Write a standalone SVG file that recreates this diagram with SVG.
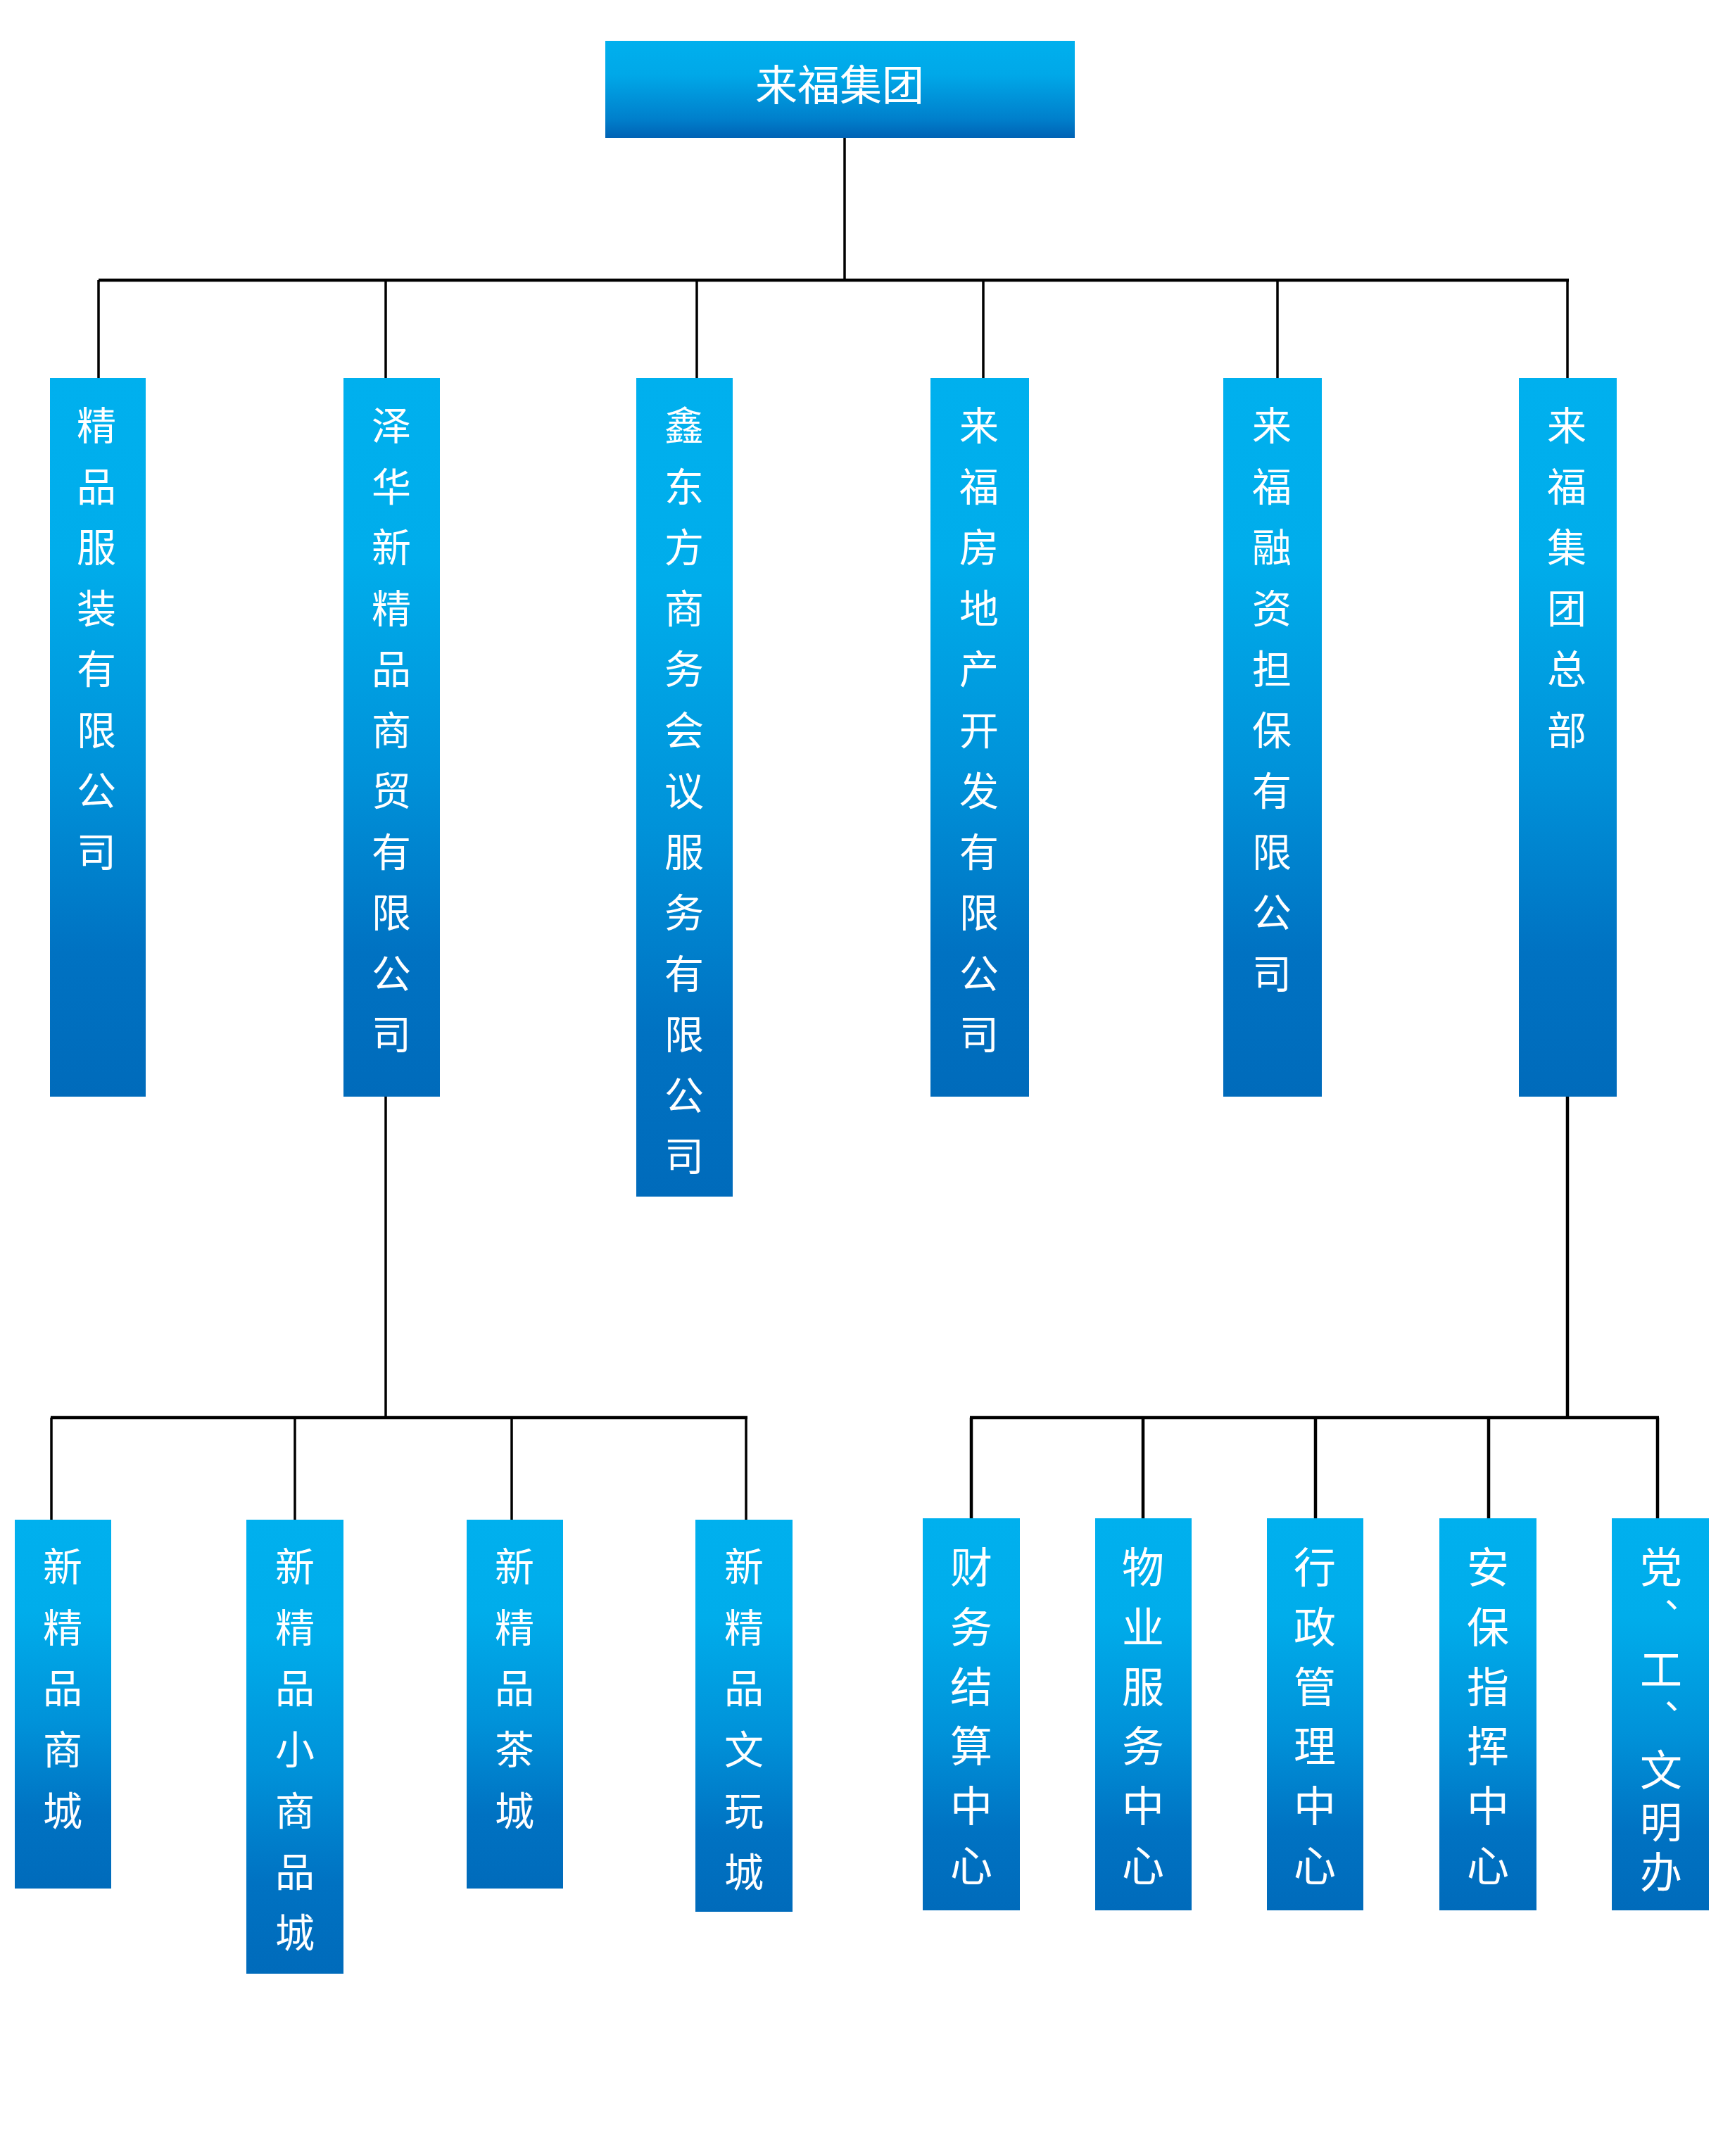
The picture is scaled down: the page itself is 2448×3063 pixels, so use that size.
<svg xmlns="http://www.w3.org/2000/svg" width="2448" height="3063" viewBox="0 0 2448 3063">
<style>
.box{fill:url(#gTall);}
.t{fill:#fff;font-family:"Noto Sans CJK SC","Noto Sans CJK TC",sans-serif;font-size:56px;text-anchor:middle;}
.t2{fill:#fff;font-family:"Noto Sans CJK SC","Noto Sans CJK TC",sans-serif;font-size:60px;text-anchor:middle;}
.tc{font-family:"Noto Sans CJK TC","Noto Sans CJK SC",sans-serif;font-size:50px;}
.ln{stroke:#000;fill:none;stroke-width:3.5;}
.bus{stroke:#000;fill:none;stroke-width:4.5;}
</style>
<defs>
<linearGradient id="gTall" x1="0" y1="0" x2="0" y2="1">
<stop offset="0" stop-color="#00b0ee"/>
<stop offset="0.25" stop-color="#00adeb"/>
<stop offset="0.55" stop-color="#0092d9"/>
<stop offset="0.8" stop-color="#0072c2"/>
<stop offset="1" stop-color="#006bbb"/>
</linearGradient>
<linearGradient id="gTop" x1="0" y1="0" x2="0" y2="1">
<stop offset="0" stop-color="#00b0ee"/>
<stop offset="0.35" stop-color="#00a8e8"/>
<stop offset="0.8" stop-color="#0080cc"/>
<stop offset="1" stop-color="#0062b4"/>
</linearGradient>
</defs>
<rect width="2448" height="3063" fill="#fff"/>

<g id="connectors">
<path class="ln" d="M1200 196V398"/>
<path class="bus" d="M140 398H2229"/>
<path class="ln" d="M140 398V537M548 398V537M990 398V537M1397 398V537M1815 398V537M2227 398V537"/>
<path class="ln" d="M548 1558V2014"/>
<path class="bus" d="M72 2014H1062"/>
<path class="ln" d="M73 2014V2159M419 2014V2159M727 2014V2159M1060 2014V2159"/>
<path class="bus" d="M2227 1558V2014"/>
<path class="bus" d="M1378 2014H2357"/>
<path class="bus" d="M1380 2014V2157M1624 2014V2157M1869 2014V2157M2115 2014V2157M2355 2014V2157"/>
</g>

<g id="root">
<rect x="860" y="58" width="667" height="138" fill="url(#gTop)"/>
<text class="t2" x="1193" y="143">来福集团</text>
</g>

<g id="n1">
<rect class="box" x="71" y="537" width="136" height="1021"/>
<text class="t" x="137 137 137 137 137 137 137 137" y="625 711.5 798 884.5 971 1057.5 1144 1230.5">精品服装有限公司</text>
</g>
<g id="n2">
<rect class="box" x="488" y="537" width="137" height="1021"/>
<text class="t" x="556 556 556 556 556 556 556 556 556 556 556" y="625 711.5 798 884.5 971 1057.5 1144 1230.5 1317 1403.5 1490">泽华新精品商贸有限公司</text>
</g>
<g id="n3">
<rect class="box" x="904" y="537" width="137" height="1163"/>
<text class="t" x="972 972 972 972 972 972 972 972 972 972 972 972 972" y="625 711.5 798 884.5 971 1057.5 1144 1230.5 1317 1403.5 1490 1576.5 1663">鑫东方商务会议服务有限公司</text>
</g>
<g id="n4">
<rect class="box" x="1322" y="537" width="140" height="1021"/>
<text class="t" x="1391 1391 1391 1391 1391 1391 1391 1391 1391 1391 1391" y="625 711.5 798 884.5 971 1057.5 1144 1230.5 1317 1403.5 1490">来福房地产开发有限公司</text>
</g>
<g id="n5">
<rect class="box" x="1738" y="537" width="140" height="1021"/>
<text class="t" x="1807 1807 1807 1807 1807 1807 1807 1807 1807 1807" y="625 711.5 798 884.5 971 1057.5 1144 1230.5 1317 1403.5">来福融资担保有限公司</text>
</g>
<g id="n6">
<rect class="box" x="2158" y="537" width="139" height="1021"/>
<text class="t" x="2226 2226 2226 2226 2226 2226" y="625 711.5 798 884.5 971 1057.5">来福集团总部</text>
</g>

<g id="m1">
<rect class="box" x="21" y="2159" width="137" height="524"/>
<text class="t" x="89 89 89 89 89" y="2246 2332.7 2419.4 2506.1 2592.8">新精品商城</text>
</g>
<g id="m2">
<rect class="box" x="350" y="2159" width="138" height="645"/>
<text class="t" x="419 419 419 419 419 419 419" y="2246 2332.7 2419.4 2506.1 2592.8 2679.5 2766.2">新精品小商品城</text>
</g>
<g id="m3">
<rect class="box" x="663" y="2159" width="137" height="524"/>
<text class="t" x="731 731 731 731 731" y="2246 2332.7 2419.4 2506.1 2592.8">新精品茶城</text>
</g>
<g id="m4">
<rect class="box" x="988" y="2159" width="138" height="557"/>
<text class="t" x="1057 1057 1057 1057 1057 1057" y="2246 2332.7 2419.4 2506.1 2592.8 2679.5">新精品文玩城</text>
</g>

<g id="r1">
<rect class="box" x="1311" y="2157" width="138" height="557"/>
<text class="t2" x="1380 1380 1380 1380 1380 1380" y="2249 2333.8 2418.6 2503.4 2588.2 2673">财务结算中心</text>
</g>
<g id="r2">
<rect class="box" x="1556" y="2157" width="137" height="557"/>
<text class="t2" x="1624 1624 1624 1624 1624 1624" y="2249 2333.8 2418.6 2503.4 2588.2 2673">物业服务中心</text>
</g>
<g id="r3">
<rect class="box" x="1800" y="2157" width="137" height="557"/>
<text class="t2" x="1868 1868 1868 1868 1868 1868" y="2249 2333.8 2418.6 2503.4 2588.2 2673">行政管理中心</text>
</g>
<g id="r4">
<rect class="box" x="2045" y="2157" width="138" height="557"/>
<text class="t2" x="2114 2114 2114 2114 2114 2114" y="2249 2333.8 2418.6 2503.4 2588.2 2673">安保指挥中心</text>
</g>
<g id="r5">
<rect class="box" x="2290" y="2157" width="138" height="557"/>
<text class="t2" x="2360 2375 2360 2375 2360 2360 2360" y="2249 2299 2394 2443 2537 2611 2682">党<tspan class="tc">、</tspan>工<tspan class="tc">、</tspan>文明办</text>
</g>
</svg>
